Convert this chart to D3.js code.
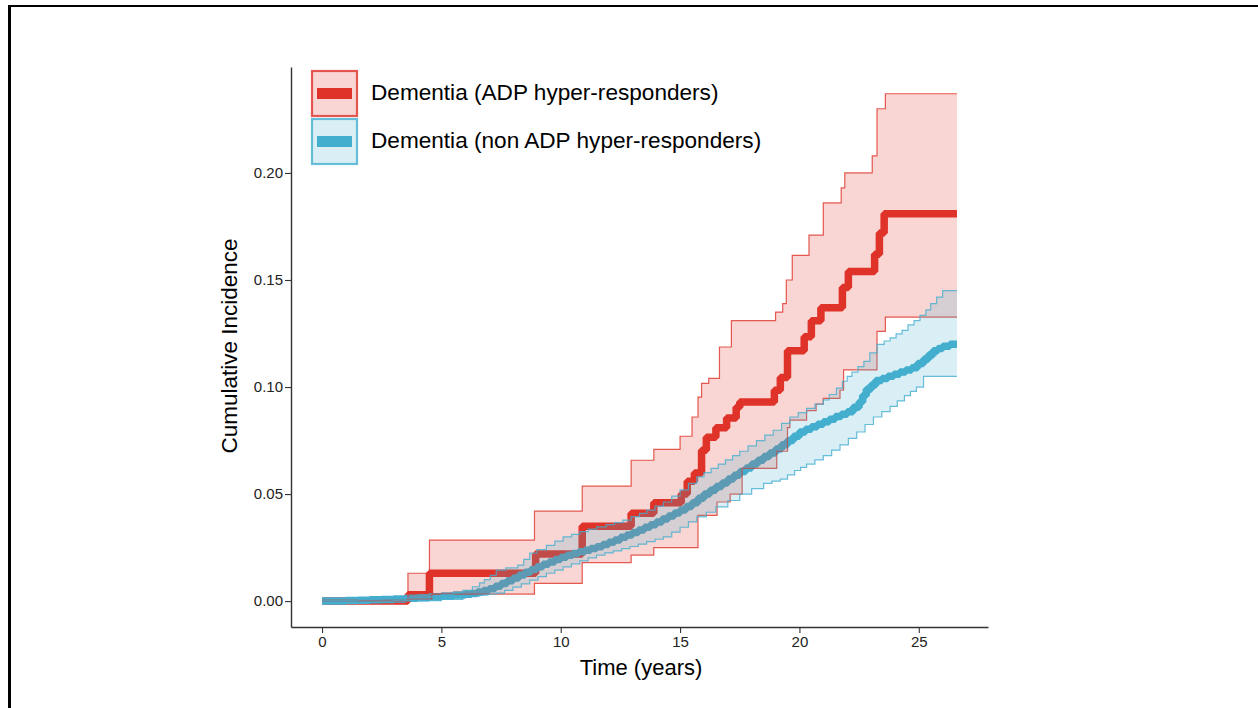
<!DOCTYPE html>
<html>
<head>
<meta charset="utf-8">
<script src="https://cdn.jsdelivr.net/npm/d3@7"></script>
<style>
  html, body { margin: 0; padding: 0; background: #fff; }
  svg { display: block; }
  text { font-family: "Liberation Sans", Arial, sans-serif; }
</style>
</head>
<body>
<svg id="chart" width="1258" height="708"></svg>
<script>
// ---------- Data ----------
const seriesNames = ["Dementia (ADP hyper-responders)", "Dementia (non ADP hyper-responders)"];
const seriesColors = ["#DF3228", "#44AECF"];
const xTicks = [0, 5, 10, 15, 20, 25];
const yTicks = [0.00, 0.05, 0.10, 0.15, 0.20];
const endTime = 26.6;

// ADP hyper-responders: cumulative incidence estimate (step after)
const redTime = [0, 3.6, 4.5, 8.95, 10.9, 12.95, 13.9, 15.05, 15.3, 15.6, 15.9, 16.1, 16.5, 16.95, 17.35, 17.5, 18.95, 19.2, 19.5, 20.2, 20.5, 20.9, 21.8, 22.05, 23.15, 23.35, 23.55];
const redEst  = [0, 0.003, 0.013, 0.022, 0.035, 0.041, 0.046, 0.050, 0.056, 0.0598, 0.0705, 0.0765, 0.081, 0.0855, 0.0905, 0.093, 0.0985, 0.1045, 0.117, 0.1235, 0.131, 0.137, 0.1465, 0.154, 0.162, 0.172, 0.181];

const redUpperTime = [0, 3.6, 4.5, 8.9, 10.9, 12.95, 13.9, 15.0, 15.5, 15.75, 15.9, 16.2, 16.65, 17.15, 19.0, 19.3, 19.45, 19.7, 20.4, 21.0, 21.75, 21.9, 23.05, 23.25, 23.6];
const redUpper     = [0.0005, 0.013, 0.0285, 0.042, 0.0537, 0.0658, 0.0709, 0.077, 0.086, 0.0953, 0.1017, 0.104, 0.1187, 0.131, 0.135, 0.139, 0.150, 0.1615, 0.171, 0.186, 0.193, 0.200, 0.208, 0.230, 0.237];

const redLowerTime = [0, 3.7, 4.6, 8.9, 10.9, 12.95, 13.9, 15.75, 16.55, 17.1, 17.6, 19.05, 19.5, 19.6, 20.3, 20.7, 21.0, 21.7, 21.85, 23.25, 23.6];
const redLower     = [0, 0.001, 0.0033, 0.0083, 0.018, 0.0215, 0.025, 0.040, 0.0463, 0.050, 0.062, 0.070, 0.081, 0.0845, 0.089, 0.092, 0.0947, 0.0985, 0.108, 0.126, 0.1327];

// non ADP hyper-responders (many small event steps)
const blueTime = [0, 0.5, 1, 1.5, 2, 2.5, 3, 3.5, 4, 4.5, 5, 5.5, 6, 6.25, 6.5, 6.75, 7, 7.25, 7.5, 7.75, 8, 8.25, 8.5, 8.75, 9, 9.25, 9.5, 9.75, 10, 10.25, 10.5, 10.75, 11, 11.25, 11.5, 11.75, 12, 12.25, 12.5, 12.75, 13, 13.25, 13.5, 13.75, 14, 14.25, 14.5, 14.75, 15, 15.25, 15.5, 15.75, 16, 16.25, 16.5, 16.75, 17, 17.25, 17.5, 17.75, 18, 18.25, 18.5, 18.75, 19, 19.25, 19.5, 19.75, 20, 20.25, 20.5, 20.75, 21, 21.25, 21.5, 21.75, 22, 22.25, 22.5, 22.65, 22.8, 23, 23.2, 23.45, 23.7, 23.95, 24.2, 24.45, 24.7, 24.95, 25.2, 25.4, 25.6, 25.8, 26, 26.3];
const blueEst  = [0, 0.0001, 0.0003, 0.0004, 0.0006, 0.0008, 0.0010, 0.0013, 0.0016, 0.0020, 0.0024, 0.0028, 0.0032, 0.0036, 0.0042, 0.0049, 0.0058, 0.0069, 0.0082, 0.0095, 0.0108, 0.0122, 0.0135, 0.0148, 0.0160, 0.0172, 0.0183, 0.0194, 0.0205, 0.0214, 0.0222, 0.0230, 0.0238, 0.0246, 0.0254, 0.0264, 0.0275, 0.0286, 0.0298, 0.0309, 0.0320, 0.0332, 0.0345, 0.0357, 0.0370, 0.0384, 0.0398, 0.0411, 0.0425, 0.0442, 0.0460, 0.0480, 0.0500, 0.0518, 0.0535, 0.0552, 0.0570, 0.0588, 0.0605, 0.0622, 0.0640, 0.0658, 0.0675, 0.0692, 0.0710, 0.0730, 0.0750, 0.0770, 0.0790, 0.0803, 0.0815, 0.0826, 0.0838, 0.0850, 0.0862, 0.0873, 0.0885, 0.0905, 0.0930, 0.0960, 0.0990, 0.1010, 0.1030, 0.1040, 0.1050, 0.1060, 0.1070, 0.1080, 0.1090, 0.1110, 0.1130, 0.1150, 0.1170, 0.1180, 0.1190, 0.1200];

const blueUpperTime = [0, 1.5, 2.5, 3.5, 4.5, 5, 5.5, 5.9, 6.3, 6.6, 6.8, 7.05, 7.3, 7.7, 8.2, 8.45, 8.7, 9.0, 9.4, 9.75, 10.1, 10.45, 10.8, 11.15, 11.5, 11.9, 12.25, 12.6, 12.95, 13.3, 13.6, 13.95, 14.3, 14.65, 15.0, 15.35, 15.7, 16.0, 16.3, 16.6, 16.9, 17.2, 17.5, 17.85, 18.2, 18.55, 18.9, 19.25, 19.6, 19.95, 20.3, 20.65, 21.0, 21.25, 21.55, 21.8, 22.0, 22.2, 22.45, 22.7, 22.95, 23.25, 23.55, 23.8, 24.05, 24.3, 24.55, 24.8, 25.05, 25.3, 25.5, 25.75, 26.0];
const blueUpper     = [0.0005, 0.0008, 0.001, 0.0015, 0.002, 0.003, 0.004, 0.005, 0.0067, 0.0085, 0.010, 0.012, 0.0145, 0.0155, 0.0168, 0.0195, 0.0224, 0.024, 0.026, 0.028, 0.030, 0.0312, 0.0325, 0.0336, 0.0347, 0.0357, 0.0367, 0.0378, 0.0395, 0.041, 0.0425, 0.0444, 0.0463, 0.049, 0.052, 0.055, 0.058, 0.060, 0.062, 0.064, 0.066, 0.068, 0.070, 0.0725, 0.075, 0.0775, 0.0798, 0.083, 0.086, 0.088, 0.090, 0.092, 0.094, 0.0965, 0.0995, 0.1027, 0.105, 0.107, 0.1095, 0.112, 0.116, 0.1199, 0.1215, 0.123, 0.1248, 0.1265, 0.129, 0.131, 0.1335, 0.136, 0.139, 0.142, 0.145];

const blueLowerTime = [0, 3, 5, 5.9, 6.25, 6.6, 6.95, 7.3, 7.65, 8.0, 8.35, 8.7, 9.05, 9.4, 9.75, 10.1, 10.45, 10.8, 11.15, 11.5, 11.85, 12.2, 12.55, 12.9, 13.25, 13.6, 13.95, 14.3, 14.65, 15.0, 15.35, 15.7, 16.1, 16.5, 17.0, 17.5, 18.0, 18.5, 18.85, 19.2, 19.5, 19.8, 20.05, 20.3, 20.65, 21.0, 21.35, 21.7, 22.05, 22.4, 22.75, 23.1, 23.45, 23.8, 24.1, 24.4, 24.65, 24.9, 25.2];
const blueLower     = [0, 0.0002, 0.0008, 0.0019, 0.0023, 0.0028, 0.0032, 0.0037, 0.005, 0.0065, 0.008, 0.0098, 0.0114, 0.013, 0.0145, 0.016, 0.0174, 0.0188, 0.0202, 0.0215, 0.0225, 0.0235, 0.0245, 0.0255, 0.0266, 0.0278, 0.0289, 0.030, 0.0322, 0.0345, 0.037, 0.0393, 0.0415, 0.044, 0.047, 0.050, 0.0525, 0.055, 0.056, 0.057, 0.059, 0.061, 0.0625, 0.064, 0.066, 0.068, 0.0705, 0.073, 0.076, 0.079, 0.0825, 0.086, 0.0885, 0.091, 0.0935, 0.096, 0.098, 0.100, 0.105];

// ---------- Helpers ----------
function stepSeries(times, vals) {
  const pts = times.map((t, i) => ({ t, v: vals[i] }));
  pts.push({ t: endTime, v: vals[vals.length - 1] });
  return pts;
}
function stepAt(times, vals, t) {
  const i = d3.bisectRight(times, t) - 1;
  return vals[Math.max(0, i)];
}
function bandSeries(ut, uv, lt, lv) {
  const ts = Array.from(new Set([...ut, ...lt, endTime])).sort((a, b) => a - b);
  return ts.map(t => ({ t, lo: stepAt(lt, lv, t), hi: stepAt(ut, uv, t) }));
}

// ---------- Layout ----------
const svg = d3.select("#chart");
const x = d3.scaleLinear().domain([-1.3, 27.9]).range([291, 988]);
const y = d3.scaleLinear().domain([-0.0121, 0.2495]).range([627, 67]);

// outer frame
svg.append("line").attr("x1", 9).attr("x2", 1258).attr("y1", 6).attr("y2", 6)
  .attr("stroke", "#000").attr("stroke-width", 2.2);
svg.append("line").attr("x1", 9.5).attr("x2", 9.5).attr("y1", 5).attr("y2", 708)
  .attr("stroke", "#000").attr("stroke-width", 3);

const lineGen = d3.line().x(d => x(d.t)).y(d => y(d.v)).curve(d3.curveStepAfter);
const areaGen = d3.area().x(d => x(d.t)).y0(d => y(d.lo)).y1(d => y(d.hi)).curve(d3.curveStepAfter);

const plot = svg.append("g");

// estimate lines (drawn first, ribbons overlay them)
const estimates = [stepSeries(redTime, redEst), stepSeries(blueTime, blueEst)];
estimates.forEach((s, i) => {
  plot.append("path").datum(s).attr("d", lineGen)
    .attr("fill", "none").attr("stroke", seriesColors[i])
    .attr("stroke-width", 7.5).attr("stroke-linejoin", "bevel");
});

// confidence ribbons
const bands = [
  { area: bandSeries(redUpperTime, redUpper, redLowerTime, redLower),
    up: stepSeries(redUpperTime, redUpper), lo: stepSeries(redLowerTime, redLower) },
  { area: bandSeries(blueUpperTime, blueUpper, blueLowerTime, blueLower),
    up: stepSeries(blueUpperTime, blueUpper), lo: stepSeries(blueLowerTime, blueLower) }
];
bands.forEach((b, i) => {
  plot.append("path").datum(b.area).attr("d", areaGen)
    .attr("fill", seriesColors[i]).attr("fill-opacity", 0.2).attr("stroke", "none");
  [b.up, b.lo].forEach(s => {
    plot.append("path").datum(s).attr("d", lineGen)
      .attr("fill", "none").attr("stroke", seriesColors[i])
      .attr("stroke-opacity", 0.8).attr("stroke-width", 1.2);
  });
});

// ---------- Axes ----------
const xAxis = svg.append("g").attr("transform", "translate(0,627)")
  .call(d3.axisBottom(x).tickValues(xTicks).tickFormat(d3.format("d")).tickSize(6).tickSizeOuter(0));
const yAxis = svg.append("g").attr("transform", "translate(291,0)")
  .call(d3.axisLeft(y).tickValues(yTicks).tickFormat(d3.format(".2f")).tickSize(6).tickSizeOuter(0));
[xAxis, yAxis].forEach(a => {
  a.select(".domain").attr("stroke", "#333").attr("stroke-width", 1.4);
  a.selectAll(".tick line").attr("stroke", "#333").attr("stroke-width", 1.1);
  a.selectAll(".tick text").attr("fill", "#222").style("font-size", "15px")
    .style("font-family", "'Liberation Sans', Arial, sans-serif");
});
xAxis.selectAll(".tick text").attr("dy", "0.9em").attr("y", 6);
yAxis.selectAll(".tick text").attr("x", -8);

svg.append("text").attr("x", 641).attr("y", 675).attr("text-anchor", "middle")
  .style("font-size", "22px").attr("fill", "#000").text("Time (years)");
svg.append("text").attr("transform", "translate(237,346) rotate(-90)").attr("text-anchor", "middle")
  .style("font-size", "22.5px").attr("fill", "#000").text("Cumulative Incidence");

// ---------- Legend ----------
const legend = svg.append("g");
seriesNames.forEach((name, i) => {
  const top = 71 + i * 48;
  legend.append("rect").attr("x", 312).attr("y", top).attr("width", 45).attr("height", 45)
    .attr("fill", seriesColors[i]).attr("fill-opacity", 0.2)
    .attr("stroke", seriesColors[i]).attr("stroke-opacity", 0.8).attr("stroke-width", 2.2);
  legend.append("line").attr("x1", 317).attr("x2", 352).attr("y1", top + 22.5).attr("y2", top + 22.5)
    .attr("stroke", seriesColors[i]).attr("stroke-width", 11);
  legend.append("text").attr("x", 371).attr("y", top + 28.5)
    .style("font-size", "22.6px").attr("fill", "#000").text(name);
});
</script>
</body>
</html>
